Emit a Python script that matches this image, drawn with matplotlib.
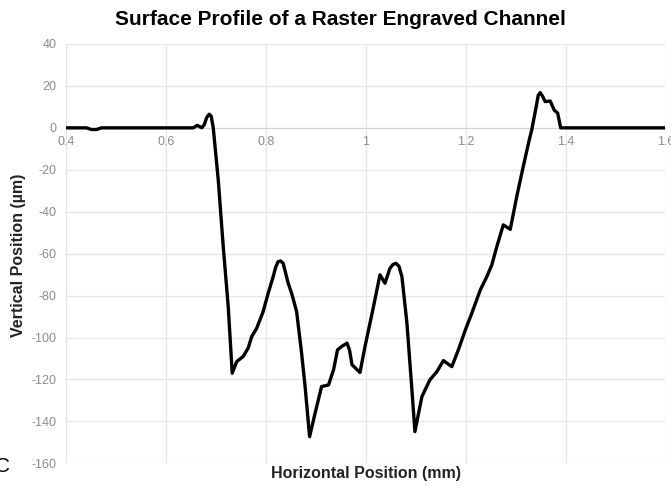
import numpy as np
import matplotlib
matplotlib.use("Agg")
import matplotlib.pyplot as plt

# profile (x in mm, y in um)
pos_mm = [0.40, 0.44, 0.45, 0.46, 0.47, 0.60, 0.654, 0.662, 0.671, 0.676, 0.681, 0.686, 0.690,
          0.694, 0.704, 0.714, 0.724, 0.732, 0.741, 0.754, 0.764, 0.771, 0.781,
          0.794, 0.804, 0.814, 0.819, 0.824, 0.829, 0.834, 0.844, 0.851, 0.861, 0.871, 0.878,
          0.887, 0.898, 0.911, 0.925, 0.935, 0.943, 0.951, 0.962, 0.967, 0.972, 0.988,
          0.998, 1.015, 1.028, 1.038, 1.048, 1.054, 1.060, 1.066, 1.072, 1.082, 1.092, 1.098,
          1.112, 1.128, 1.142, 1.155, 1.172, 1.185, 1.199, 1.212, 1.229, 1.242,
          1.252, 1.262, 1.275, 1.289, 1.302, 1.315, 1.327, 1.332, 1.341, 1.345, 1.349,
          1.354, 1.359, 1.369, 1.377, 1.384, 1.390, 1.45, 1.60]
height_um = [0, 0, -0.8, -0.8, 0, 0, 0, 1.2, 0, 1.5, 5.0, 6.5, 5.5,
             0, -24.8, -56.6, -85.3, -117, -111.5, -109, -105, -99.6, -95.6,
             -87.6, -78.9, -71, -66.5, -63.8, -63.5, -64.6, -74, -78.9, -87.6, -107.5, -123.4,
             -147.3, -136.1, -123.4, -122.6, -115.4, -105.9, -104.3, -102.7, -106, -113, -116.7,
             -104.3, -85.3, -70.1, -74.1, -67, -65.2, -64.6, -66, -71, -93.2, -125, -144.9,
             -128.2, -120.2, -116.3, -111, -113.9, -105.9, -96.4, -88.4, -77.3, -71,
             -65.4, -56.7, -46.3, -48.4, -32.8, -18.5, -5.8, -1, 10.1, 15.5, 16.8,
             15.0, 12.5, 12.8, 8.5, 7, 0, 0, 0]

x_ticks = [0.4, 0.6, 0.8, 1.0, 1.2, 1.4, 1.6]
x_labels = ["0.4", "0.6", "0.8", "1", "1.2", "1.4", "1.6"]
y_ticks = list(range(-160, 41, 20))

plt.rcParams['font.family'] = ['Liberation Sans', 'DejaVu Sans']
plt.rcParams['axes.unicode_minus'] = False

fig = plt.figure(figsize=(6.71, 4.86), dpi=100)
ax = fig.add_axes([0.0991, 0.0467, 0.8927, 0.8628])

ax.plot(pos_mm, height_um, color='black', lw=2.4, solid_capstyle='round',
        solid_joinstyle='round', zorder=3)

ax.set_xlim(0.4, 1.6)
ax.set_ylim(-160, 40)
ax.set_xticks(x_ticks)
ax.set_xticklabels(x_labels)
ax.set_yticks(y_ticks)
ax.grid(True, color='#e6e6e6', lw=0.9, zorder=0)

for s in ['top', 'right', 'left']:
    ax.spines[s].set_visible(False)
ax.spines['bottom'].set_position(('data', 0))
ax.spines['bottom'].set_color('#d4d4d4')
ax.tick_params(length=0, labelsize=9, labelcolor='#8c8c8c')
ax.tick_params(axis='x', pad=6)
ax.tick_params(axis='y', pad=7)

fig.text(0.508, 0.959, "Surface Profile of a Raster Engraved Channel",
         ha='center', va='center', fontsize=15, fontweight='bold')
fig.text(0.546, 0.025, "Horizontal Position (mm)", ha='center', va='center',
         fontsize=11.5, fontweight='bold', color='#222222')
fig.text(0.028, 0.475, "Vertical Position (\u00b5m)", ha='center', va='center',
         rotation=90, fontsize=11.5, fontweight='bold', color='#222222')
fig.text(-0.008, 0.04, "C", ha='left', va='center', fontsize=15, color='black')

fig.savefig("out.png", dpi=100)
